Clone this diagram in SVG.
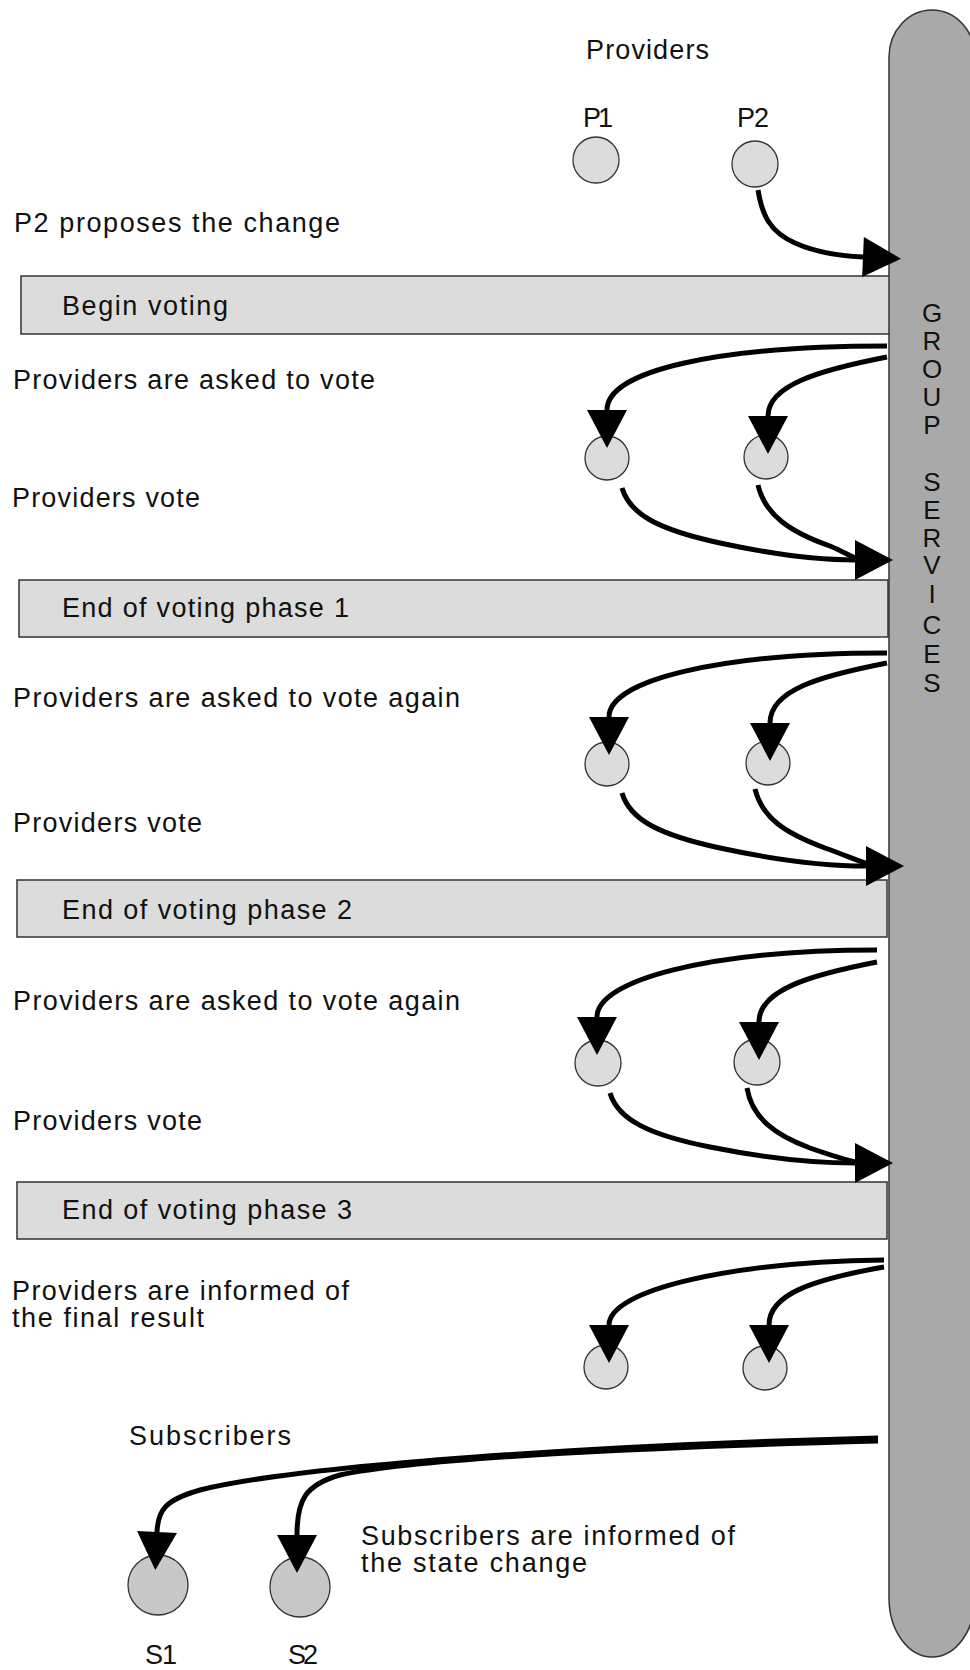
<svg xmlns="http://www.w3.org/2000/svg" width="970" height="1670" viewBox="0 0 970 1670">
<style>
text{font-family:"Liberation Sans",Arial,Helvetica,sans-serif;font-size:27px;fill:#111}
.bar{fill:#dcdcdc;stroke:#333;stroke-width:1.5}
.pc{fill:#dcdcdc;stroke:#333;stroke-width:1.3}
.sc{fill:#c8c8c8;stroke:#333;stroke-width:1.3}
.pill{fill:#a9a9a9;stroke:#333;stroke-width:1.5}
.gs{font-size:26px;text-anchor:middle}
.c{fill:none;stroke:#000;stroke-width:5}
.ca{marker-end:url(#ah)}
</style>
<defs>
<marker id="ah" markerUnits="userSpaceOnUse" markerWidth="40" markerHeight="42" refX="0" refY="21" orient="auto" overflow="visible">
<path d="M0,1 L38,21 L0,41 Z" fill="#000"/>
</marker>
</defs>
<rect width="970" height="1670" fill="#fff"/>

<g id="bar-begin"><rect class="bar" x="21" y="276" width="871" height="58"/><text x="62" y="315" textLength="166">Begin voting</text></g>
<g id="bar-phase1"><rect class="bar" x="19" y="580" width="869" height="57"/><text x="62" y="617" textLength="287">End of voting phase 1</text></g>
<g id="bar-phase2"><rect class="bar" x="17" y="880" width="870" height="57"/><text x="62" y="919" textLength="290">End of voting phase 2</text></g>
<g id="bar-phase3"><rect class="bar" x="17" y="1182" width="870" height="57"/><text x="62" y="1219" textLength="290">End of voting phase 3</text></g>

<g id="group-services">
<path class="pill" d="M889,57 A43,47 0 0 1 975,57 L975,1598 A43,59 0 0 1 889,1598 Z"/>
<text class="gs" x="932" y="322">G</text>
<text class="gs" x="932" y="350">R</text>
<text class="gs" x="932" y="378">O</text>
<text class="gs" x="932" y="406">U</text>
<text class="gs" x="932" y="434">P</text>
<text class="gs" x="932" y="491">S</text>
<text class="gs" x="932" y="519">E</text>
<text class="gs" x="932" y="547">R</text>
<text class="gs" x="932" y="574">V</text>
<text class="gs" x="932" y="603">I</text>
<text class="gs" x="932" y="634">C</text>
<text class="gs" x="932" y="663">E</text>
<text class="gs" x="932" y="692">S</text>
</g>

<text x="586" y="59" textLength="123">Providers</text>
<g id="P1"><text x="583" y="127" textLength="30">P1</text><circle class="pc" cx="596" cy="160" r="23"/></g>
<g id="P2"><text x="737" y="127" textLength="32">P2</text><circle class="pc" cx="755" cy="164" r="23"/></g>

<text x="14" y="232" textLength="326">P2 proposes the change</text>
<text x="13" y="389" textLength="362">Providers are asked to vote</text>
<text x="12" y="507" textLength="188">Providers vote</text>
<text x="13" y="707" textLength="447">Providers are asked to vote again</text>
<text x="13" y="832" textLength="189">Providers vote</text>
<text x="13" y="1010" textLength="447">Providers are asked to vote again</text>
<text x="13" y="1130" textLength="189">Providers vote</text>
<text x="12" y="1300" textLength="337">Providers are informed of</text>
<text x="12" y="1327" textLength="192">the final result</text>
<text x="129" y="1445" textLength="162">Subscribers</text>
<text x="361" y="1545" textLength="374">Subscribers are informed of</text>
<text x="361" y="1572" textLength="226">the state change</text>

<g id="P1-vote1"><circle class="pc" cx="607" cy="458" r="22"/></g>
<g id="P2-vote1"><circle class="pc" cx="766" cy="457" r="22"/></g>
<g id="P1-vote2"><circle class="pc" cx="607" cy="764" r="22"/></g>
<g id="P2-vote2"><circle class="pc" cx="768" cy="763" r="22"/></g>
<g id="P1-vote3"><circle class="pc" cx="598" cy="1063" r="23"/></g>
<g id="P2-vote3"><circle class="pc" cx="757" cy="1062" r="23"/></g>
<g id="P1-result"><circle class="pc" cx="606" cy="1367" r="22"/></g>
<g id="P2-result"><circle class="pc" cx="765" cy="1368" r="22"/></g>
<g id="S1"><circle class="sc" cx="158" cy="1585" r="30"/><text x="145" y="1664" textLength="32">S1</text></g>
<g id="S2"><circle class="sc" cx="300" cy="1587" r="30"/><text x="288" y="1664" textLength="30">S2</text></g>

<g id="connectors">
<path class="c ca" d="M758,190 C762,215 770,232 795,243 C815,252 840,256 863,257"/>

<path class="c ca" d="M887,346 C720,346 607,370 607,410"/>
<path class="c ca" d="M887,357 C820,370 768,385 768,416"/>
<path class="c ca" d="M622,488 C630,515 660,530 720,543 C780,556 825,560 855,560"/>
<path class="c" d="M758,485 C765,515 790,532 830,546 C842,551 850,556 857,559"/>

<path class="c ca" d="M887,653 C720,653 609,680 609,717"/>
<path class="c ca" d="M887,663 C820,676 770,690 770,723"/>
<path class="c ca" d="M622,793 C630,820 660,835 720,848 C780,861 830,866 866,866"/>
<path class="c" d="M755,789 C762,818 785,833 825,848 C845,855 855,860 868,864"/>

<path class="c ca" d="M877,950 C710,950 597,980 597,1017"/>
<path class="c ca" d="M877,962 C810,975 759,990 759,1022"/>
<path class="c ca" d="M610,1093 C618,1120 650,1135 710,1147 C770,1159 820,1163 855,1163"/>
<path class="c" d="M747,1088 C752,1118 775,1135 810,1148 C830,1155 845,1160 857,1162"/>

<path class="c ca" d="M884,1260 C730,1262 609,1290 609,1325"/>
<path class="c ca" d="M884,1267 C810,1280 769,1295 769,1325"/>

<path class="c ca" d="M878,1438 C600,1445 300,1465 200,1490 C165,1500 158,1510 157,1532"/>
<path class="c ca" d="M878,1441 C650,1447 420,1458 340,1475 C305,1485 297,1500 297,1535"/>
</g>
</svg>
